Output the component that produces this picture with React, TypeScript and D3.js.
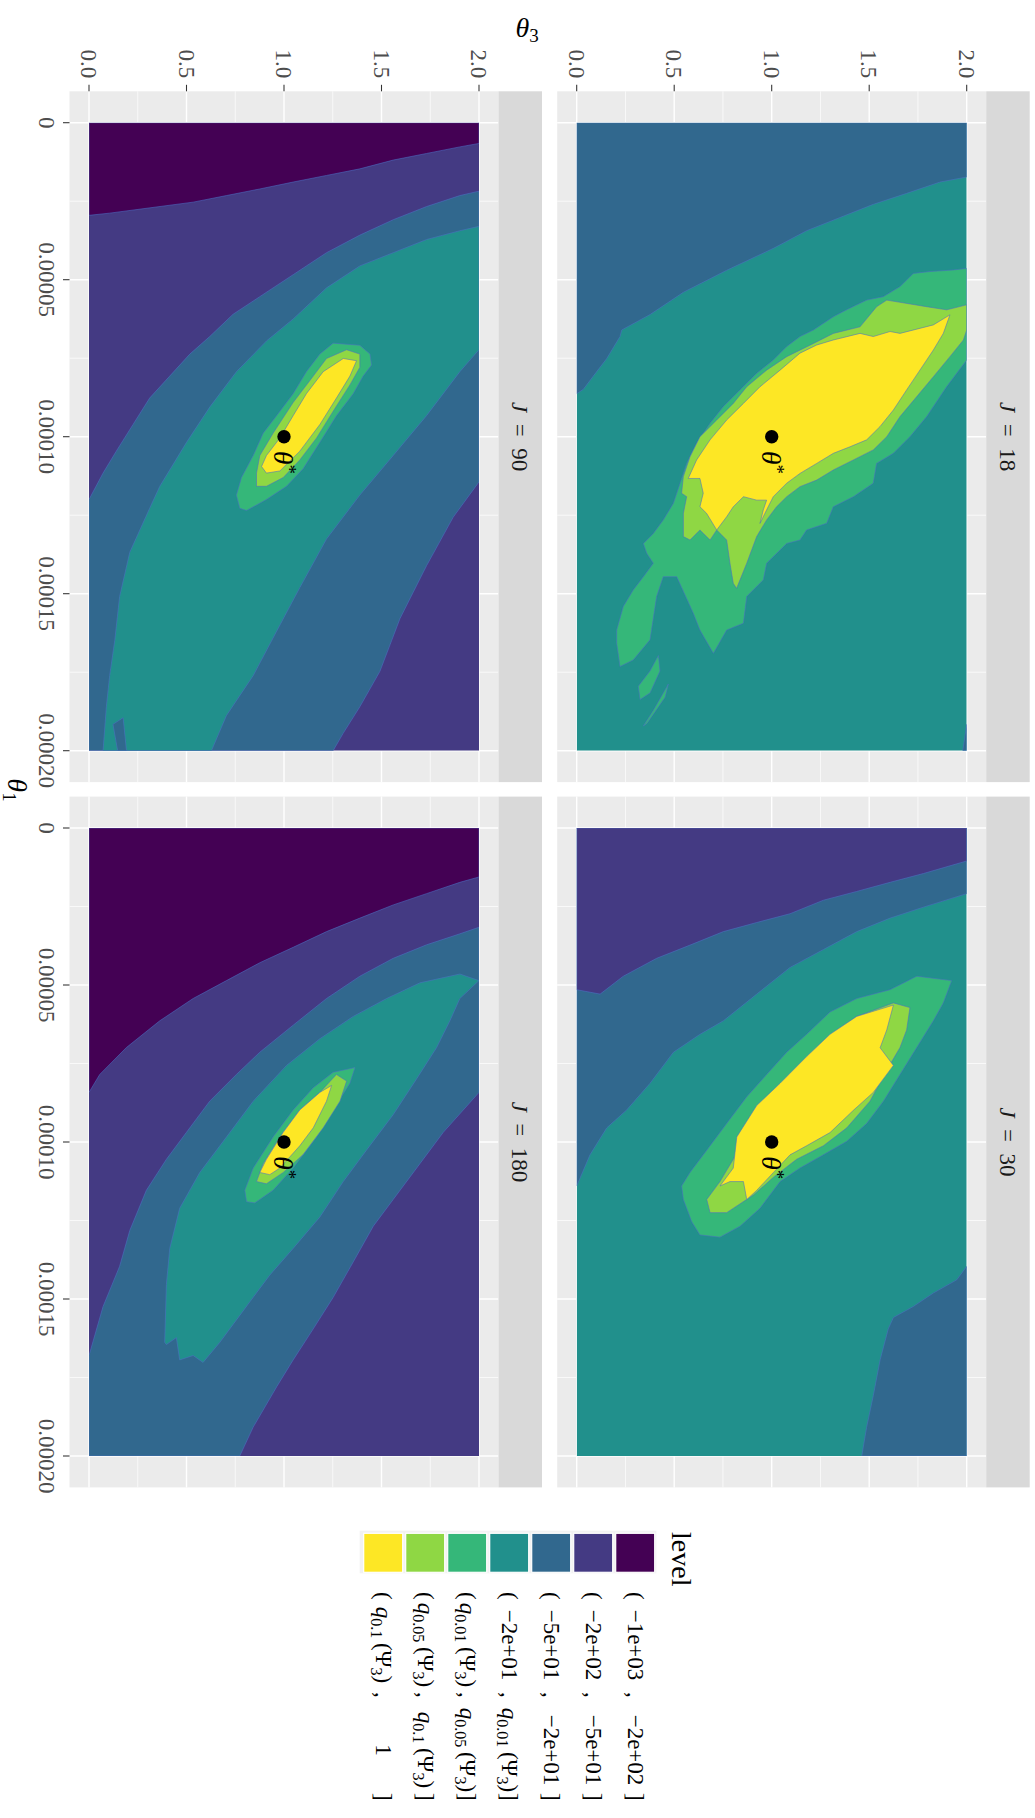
import React from "react";
import * as d3 from "d3";

// facets (facet_wrap order)
const panelJ = ["18", "30", "90", "180"];

const theta1Ticks = [0, 0.00005, 0.0001, 0.00015, 0.0002];
const theta1Labels = ["0", "0.00005", "0.00010", "0.00015", "0.00020"];
const theta3Ticks = [0, 0.5, 1, 1.5, 2];
const theta3Labels = ["0.0", "0.5", "1.0", "1.5", "2.0"];

// viridis, one per level
const levelColors = ["#440154", "#443A83", "#31688E", "#21908C", "#35B779", "#8FD744", "#FDE725"];
const levelLower = ["−1e+03", "−2e+02", "−5e+01", "−2e+01", "q0.01", "q0.05", "q0.1"];
const levelUpper = ["−2e+02", "−5e+01", "−2e+01", "q0.01", "q0.05", "q0.1", "1"];

const thetaStar = [0.0001, 1]; // [theta1, theta3]

// contour regions, points are [theta3, theta1 * 1e4]
// J = 18
const j18Blue = [[0, 0.863], [0.034, 0.849], [0.085, 0.807], [0.154, 0.751], [0.222, 0.681], [0.231, 0.66], [0.376, 0.611], [0.547, 0.54], [0.769, 0.47], [1.009, 0.4], [1.179, 0.344], [1.35, 0.302], [1.521, 0.26], [1.692, 0.225], [1.863, 0.189], [2, 0.173], [2, 0], [0, 0]];
const j18BlueCorner = [[1.98, 2], [2, 1.916], [2, 2]];
const j18Green = [[2, 0.464], [1.931, 0.469], [1.812, 0.474], [1.726, 0.48], [1.658, 0.522], [1.572, 0.554], [1.487, 0.565], [1.384, 0.596], [1.316, 0.618], [1.214, 0.66], [1.145, 0.681], [1.077, 0.713], [1.008, 0.756], [0.923, 0.798], [0.837, 0.851], [0.752, 0.904], [0.684, 0.957], [0.615, 1.021], [0.564, 1.085], [0.53, 1.148], [0.496, 1.212], [0.444, 1.265], [0.393, 1.308], [0.342, 1.34], [0.359, 1.371], [0.393, 1.403], [0.342, 1.446], [0.29, 1.488], [0.239, 1.541], [0.205, 1.616], [0.205, 1.658], [0.222, 1.732], [0.29, 1.711], [0.376, 1.647], [0.41, 1.509], [0.444, 1.446], [0.513, 1.446], [0.598, 1.562], [0.632, 1.616], [0.701, 1.69], [0.769, 1.616], [0.855, 1.594], [0.872, 1.509], [0.957, 1.456], [0.974, 1.403], [1.077, 1.34], [1.145, 1.329], [1.179, 1.297], [1.282, 1.276], [1.316, 1.223], [1.419, 1.191], [1.521, 1.148], [1.538, 1.085], [1.624, 1.053], [1.709, 1.0], [1.795, 0.936], [1.897, 0.841], [2, 0.756]];
const j18GreenIslandA = [[0.419, 1.697], [0.376, 1.746], [0.316, 1.795], [0.325, 1.837], [0.376, 1.816], [0.427, 1.746]];
const j18GreenIslandB = [[0.47, 1.788], [0.393, 1.872], [0.342, 1.921], [0.359, 1.914], [0.453, 1.83]];
const j18LightGreen = [[2, 0.58], [1.897, 0.596], [1.795, 0.586], [1.59, 0.565], [1.538, 0.586], [1.453, 0.65], [1.316, 0.671], [1.214, 0.703], [1.077, 0.745], [0.974, 0.788], [0.872, 0.841], [0.803, 0.894], [0.718, 0.947], [0.632, 1.0], [0.581, 1.064], [0.547, 1.127], [0.538, 1.18], [0.564, 1.191], [0.547, 1.244], [0.547, 1.318], [0.581, 1.329], [0.632, 1.297], [0.684, 1.329], [0.718, 1.297], [0.769, 1.329], [0.786, 1.403], [0.803, 1.467], [0.82, 1.483], [0.872, 1.403], [0.923, 1.318], [0.974, 1.265], [1.025, 1.223], [1.077, 1.191], [1.145, 1.159], [1.231, 1.138], [1.316, 1.106], [1.419, 1.074], [1.521, 1.042], [1.59, 1.0], [1.658, 0.936], [1.743, 0.873], [1.829, 0.809], [1.914, 0.745], [1.983, 0.692], [2, 0.66]];
const j18Yellow = [[1.914, 0.612], [1.829, 0.644], [1.658, 0.671], [1.607, 0.665], [1.521, 0.681], [1.453, 0.671], [1.316, 0.692], [1.231, 0.708], [1.145, 0.734], [1.043, 0.788], [0.94, 0.841], [0.855, 0.894], [0.769, 0.947], [0.684, 1.01], [0.615, 1.074], [0.572, 1.133], [0.632, 1.133], [0.649, 1.18], [0.632, 1.223], [0.666, 1.244], [0.718, 1.297], [0.769, 1.255], [0.803, 1.223], [0.855, 1.191], [0.923, 1.202], [0.974, 1.202], [0.957, 1.233], [0.94, 1.276], [0.974, 1.233], [1.008, 1.191], [1.077, 1.148], [1.145, 1.117], [1.231, 1.085], [1.316, 1.053], [1.402, 1.032], [1.487, 1.01], [1.555, 0.968], [1.624, 0.915], [1.692, 0.851], [1.76, 0.788], [1.829, 0.724], [1.88, 0.671]];

// J = 30
const j30Blue = [[0, 1.14], [0.068, 1.041], [0.154, 0.955], [0.256, 0.898], [0.376, 0.813], [0.496, 0.714], [0.632, 0.657], [0.752, 0.614], [0.923, 0.529], [1.094, 0.444], [1.265, 0.387], [1.436, 0.33], [1.607, 0.287], [1.778, 0.252], [2, 0.209], [2, 0], [0, 0]];
const j30Indigo = [[0, 0.515], [0.12, 0.529], [0.239, 0.472], [0.41, 0.415], [0.581, 0.373], [0.752, 0.33], [0.923, 0.301], [1.094, 0.273], [1.265, 0.23], [1.436, 0.202], [1.607, 0.173], [1.778, 0.145], [2, 0.105], [2, 0], [0, 0]];
const j30BlueLower = [[1.462, 2], [1.487, 1.908], [1.521, 1.808], [1.556, 1.694], [1.598, 1.595], [1.624, 1.559], [1.726, 1.524], [1.829, 1.481], [1.949, 1.439], [2, 1.396], [2, 2]];
const j30Green = [[0.538, 1.14], [0.581, 1.097], [0.667, 1.026], [0.769, 0.941], [0.872, 0.856], [0.974, 0.785], [1.077, 0.714], [1.179, 0.657], [1.299, 0.586], [1.436, 0.543], [1.607, 0.515], [1.744, 0.472], [1.923, 0.486], [1.88, 0.557], [1.829, 0.614], [1.744, 0.699], [1.658, 0.785], [1.573, 0.87], [1.487, 0.941], [1.385, 0.998], [1.265, 1.041], [1.145, 1.083], [1.043, 1.126], [0.94, 1.211], [0.838, 1.268], [0.735, 1.303], [0.632, 1.296], [0.59, 1.254], [0.547, 1.183]];
const j30LightGreen = [[0.667, 1.183], [0.735, 1.126], [0.803, 1.055], [0.872, 0.955], [1.009, 0.842], [1.145, 0.756], [1.282, 0.671], [1.436, 0.6], [1.624, 0.557], [1.709, 0.572], [1.692, 0.643], [1.658, 0.699], [1.59, 0.771], [1.504, 0.87], [1.385, 0.955], [1.265, 1.012], [1.128, 1.055], [1.009, 1.112], [0.906, 1.169], [0.769, 1.225], [0.684, 1.225]];
const j30Yellow = [[0.735, 1.14], [0.803, 1.083], [0.821, 0.984], [0.923, 0.884], [1.043, 0.813], [1.179, 0.728], [1.299, 0.657], [1.436, 0.6], [1.624, 0.564], [1.59, 0.643], [1.556, 0.7], [1.624, 0.756], [1.521, 0.842], [1.419, 0.899], [1.299, 0.97], [1.179, 1.012], [1.094, 1.041], [1.009, 1.097], [0.923, 1.154], [0.872, 1.183], [0.855, 1.126], [0.786, 1.126]];

// J = 90
const j90Purple = [[0, 0.295], [0.106, 0.288], [0.277, 0.274], [0.534, 0.253], [0.705, 0.232], [0.876, 0.211], [1.047, 0.189], [1.218, 0.168], [1.389, 0.147], [1.56, 0.119], [1.731, 0.098], [1.902, 0.077], [2, 0.066], [2, 0], [0, 0]];
const j90Blue = [[0, 1.2], [0.072, 1.116], [0.14, 1.046], [0.226, 0.961], [0.311, 0.877], [0.414, 0.807], [0.517, 0.737], [0.619, 0.681], [0.739, 0.61], [0.876, 0.554], [1.047, 0.484], [1.218, 0.414], [1.389, 0.358], [1.56, 0.309], [1.731, 0.267], [1.902, 0.232], [2, 0.218], [2, 1.144], [1.868, 1.256], [1.731, 1.411], [1.595, 1.579], [1.492, 1.747], [1.389, 1.86], [1.304, 1.944], [1.252, 2], [0, 2]];
const j90Teal = [[0.072, 2], [0.089, 1.86], [0.106, 1.761], [0.132, 1.649], [0.157, 1.509], [0.209, 1.368], [0.311, 1.228], [0.363, 1.158], [0.5, 1.018], [0.62, 0.905], [0.756, 0.793], [0.91, 0.695], [1.047, 0.625], [1.218, 0.526], [1.389, 0.456], [1.56, 0.414], [1.731, 0.372], [1.902, 0.344], [2, 0.33], [2, 0.723], [1.902, 0.793], [1.731, 0.933], [1.56, 1.06], [1.389, 1.186], [1.218, 1.326], [1.081, 1.481], [0.961, 1.621], [0.842, 1.761], [0.705, 1.888], [0.628, 2]];
const j90BlueBump = [[0.123, 1.916], [0.175, 1.895], [0.192, 2], [0.147, 2]];
const j90Green = [[1.441, 0.737], [1.389, 0.709], [1.252, 0.702], [1.184, 0.737], [1.115, 0.793], [1.047, 0.863], [0.962, 0.933], [0.893, 0.989], [0.842, 1.06], [0.782, 1.13], [0.756, 1.186], [0.773, 1.228], [0.808, 1.235], [0.91, 1.2], [1.013, 1.158], [1.098, 1.102], [1.184, 1.018], [1.269, 0.933], [1.355, 0.863], [1.406, 0.807], [1.449, 0.772]];
const j90LightGreen = [[1.389, 0.737], [1.321, 0.723], [1.218, 0.751], [1.133, 0.821], [1.047, 0.891], [0.944, 0.989], [0.876, 1.06], [0.859, 1.116], [0.859, 1.158], [0.91, 1.158], [0.996, 1.13], [1.081, 1.074], [1.167, 1.004], [1.252, 0.919], [1.338, 0.835], [1.389, 0.779]];
const j90Yellow = [[1.372, 0.758], [1.304, 0.751], [1.201, 0.793], [1.115, 0.863], [1.047, 0.933], [0.979, 1.004], [0.91, 1.06], [0.885, 1.095], [0.91, 1.116], [0.979, 1.109], [1.081, 1.046], [1.184, 0.961], [1.269, 0.877], [1.338, 0.807]];

// J = 180
const j180Purple = [[0, 0.842], [0.055, 0.785], [0.192, 0.699], [0.363, 0.614], [0.534, 0.543], [0.705, 0.486], [0.876, 0.429], [1.047, 0.38], [1.218, 0.33], [1.389, 0.287], [1.56, 0.245], [1.731, 0.209], [1.902, 0.173], [2, 0.156], [2, 0], [0, 0]];
const j180Blue = [[0, 1.68], [0.072, 1.524], [0.157, 1.396], [0.209, 1.282], [0.294, 1.154], [0.397, 1.055], [0.5, 0.969], [0.619, 0.87], [0.756, 0.785], [0.876, 0.714], [1.047, 0.628], [1.218, 0.543], [1.389, 0.472], [1.56, 0.415], [1.731, 0.372], [1.902, 0.337], [2, 0.316], [2, 0.842], [1.817, 0.969], [1.697, 1.069], [1.56, 1.183], [1.458, 1.268], [1.355, 1.382], [1.252, 1.495], [1.15, 1.595], [1.047, 1.694], [0.962, 1.78], [0.842, 1.908], [0.773, 2], [0, 2]];
const j180Teal = [[0.388, 1.638], [0.397, 1.453], [0.414, 1.339], [0.465, 1.211], [0.568, 1.097], [0.705, 0.984], [0.842, 0.87], [1.013, 0.756], [1.184, 0.671], [1.355, 0.6], [1.526, 0.543], [1.697, 0.493], [1.902, 0.465], [2, 0.486], [1.902, 0.543], [1.851, 0.614], [1.783, 0.699], [1.68, 0.799], [1.56, 0.913], [1.423, 1.026], [1.304, 1.126], [1.184, 1.239], [1.047, 1.339], [0.927, 1.424], [0.825, 1.509], [0.739, 1.581], [0.671, 1.638], [0.585, 1.702], [0.534, 1.68], [0.465, 1.694], [0.448, 1.623], [0.397, 1.645]];
const j180Green = [[0.799, 1.154], [0.842, 1.083], [0.944, 0.984], [1.047, 0.898], [1.15, 0.827], [1.252, 0.778], [1.364, 0.763], [1.338, 0.813], [1.252, 0.898], [1.167, 0.984], [1.047, 1.083], [0.944, 1.154], [0.85, 1.194], [0.808, 1.19]];
const j180LightGreen = [[0.859, 1.126], [0.893, 1.069], [0.979, 0.984], [1.081, 0.898], [1.184, 0.842], [1.269, 0.785], [1.321, 0.806], [1.287, 0.87], [1.201, 0.955], [1.098, 1.04], [0.996, 1.097], [0.91, 1.133]];
const j180Yellow = [[0.876, 1.097], [0.91, 1.055], [0.996, 0.969], [1.081, 0.898], [1.184, 0.842], [1.244, 0.82], [1.218, 0.87], [1.15, 0.955], [1.081, 1.012], [0.979, 1.083], [0.927, 1.104]];

// background level and overlaid [level, polygon] per facet
const panelBase = { "18": 3, "30": 3, "90": 1, "180": 1 };
const panelRegions = {
  "18": [[2, j18Blue], [2, j18BlueCorner], [4, j18Green], [4, j18GreenIslandA], [4, j18GreenIslandB], [5, j18LightGreen], [6, j18Yellow]],
  "30": [[2, j30Blue], [1, j30Indigo], [2, j30BlueLower], [4, j30Green], [5, j30LightGreen], [6, j30Yellow]],
  "90": [[0, j90Purple], [2, j90Blue], [3, j90Teal], [2, j90BlueBump], [4, j90Green], [5, j90LightGreen], [6, j90Yellow]],
  "180": [[0, j180Purple], [2, j180Blue], [3, j180Teal], [4, j180Green], [5, j180LightGreen], [6, j180Yellow]],
};

const font = "'Liberation Serif', 'DejaVu Serif', serif";

// q0.01 -> q_{0.01}(Psi_3)
function Bound({ text }: { text: string }) {
  if (text.startsWith("q")) {
    return (
      <>
        <tspan fontStyle="italic">q</tspan>
        <tspan dy={5} fontSize={16}>{text.slice(1)}</tspan>
        <tspan dy={-5}>{"\u2009(Ψ"}</tspan>
        <tspan dy={5} fontSize={16}>3</tspan>
        <tspan dy={-5}>)</tspan>
      </>
    );
  }
  return <tspan>{text}</tspan>;
}

export default function App() {
  // drawn in ggplot's own (landscape) orientation, then turned 90° clockwise
  const pw = 628;
  const ph = 390;
  const ex = pw * 0.05;
  const ey = ph * 0.05;
  const colX = [122.7, 828];
  const rowY = [68.3, 556];
  const stripH = 43.5;

  const panels = panelJ.map((j, i) => {
    const col = i % 2;
    const row = Math.floor(i / 2);
    const x = d3.scaleLinear().domain([0, 0.0002]).range([colX[col], colX[col] + pw]);
    const y = d3.scaleLinear().domain([0, 2]).range([rowY[row] + ph, rowY[row]]);
    return { j, col, row, x, y };
  });

  const mid = (a: number[]) => a.slice(1).map((v, i) => (v + a[i]) / 2);
  const theta1Minor = mid(theta1Ticks);
  const theta3Minor = mid(theta3Ticks);

  return (
    <svg width={1035} height={1818} style={{ position: "absolute", left: 0, top: 0, display: "block" }} fontFamily={font}>
      <rect width={1035} height={1818} fill="#ffffff" />
      <defs>
        {panels.map((p) => (
          <clipPath id={`clip-${p.j}`} key={p.j}>
            <rect x={p.x(0)} y={p.y(2)} width={pw} height={ph} />
          </clipPath>
        ))}
      </defs>
      <g transform="translate(1035,0) rotate(90)">
        {panels.map((p) => {
          const line = d3
            .line<number[]>()
            .x((d) => p.x(d[1] * 1e-4))
            .y((d) => p.y(d[0]));
          const gx0 = p.x(0) - ex;
          const gx1 = p.x(0.0002) + ex;
          const gy0 = p.y(2) - ey;
          const gy1 = p.y(0) + ey;
          return (
            <g key={p.j}>
              {/* panel background and grid */}
              <rect x={gx0} y={gy0} width={gx1 - gx0} height={gy1 - gy0} fill="#EBEBEB" />
              {theta1Minor.map((t) => (
                <line key={"a" + t} x1={p.x(t)} x2={p.x(t)} y1={gy0} y2={gy1} stroke="#fff" strokeWidth={0.7} />
              ))}
              {theta3Minor.map((t) => (
                <line key={"b" + t} y1={p.y(t)} y2={p.y(t)} x1={gx0} x2={gx1} stroke="#fff" strokeWidth={0.7} />
              ))}
              {theta1Ticks.map((t) => (
                <line key={"c" + t} x1={p.x(t)} x2={p.x(t)} y1={gy0} y2={gy1} stroke="#fff" strokeWidth={1.4} />
              ))}
              {theta3Ticks.map((t) => (
                <line key={"d" + t} y1={p.y(t)} y2={p.y(t)} x1={gx0} x2={gx1} stroke="#fff" strokeWidth={1.4} />
              ))}

              {/* filled contours */}
              <g clipPath={`url(#clip-${p.j})`}>
                <rect x={p.x(0)} y={p.y(2)} width={pw} height={ph} fill={levelColors[panelBase[p.j]]} />
                {panelRegions[p.j].map(([lev, pts], k) => (
                  <path
                    key={k}
                    d={line(pts as number[][]) + "Z"}
                    fill={levelColors[lev as number]}
                    stroke="#4d6fc4"
                    strokeWidth={0.8}
                    strokeOpacity={0.7}
                    strokeLinejoin="round"
                  />
                ))}
              </g>

              {/* true value */}
              <circle cx={p.x(thetaStar[0])} cy={p.y(thetaStar[1])} r={6.7} fill="#000" />
              <text x={p.x(thetaStar[0]) + 14} y={p.y(thetaStar[1]) + 10} fontSize={28} fill="#000">
                <tspan fontStyle="italic">θ</tspan>
                <tspan dy={-9} fontSize={19}>*</tspan>
              </text>

              {/* strip */}
              <rect x={gx0} y={gy0 - stripH} width={gx1 - gx0} height={stripH} fill="#D9D9D9" />
              <text x={(gx0 + gx1) / 2} y={gy0 - stripH / 2 + 8} textAnchor="middle" fontSize={23} fill="#1A1A1A">
                <tspan fontStyle="italic">J</tspan>
                <tspan>{"\u2002=\u2002" + p.j}</tspan>
              </text>

              {/* θ3 axis on first column */}
              {p.col === 0 &&
                theta3Ticks.map((t, k) => (
                  <g key={"y" + t}>
                    <line x1={gx0 - 6.5} x2={gx0} y1={p.y(t)} y2={p.y(t)} stroke="#333333" strokeWidth={1.07} />
                    <text x={gx0 - 13} y={p.y(t) + 8} textAnchor="end" fontSize={23} fill="#4D4D4D">
                      {theta3Labels[k]}
                    </text>
                  </g>
                ))}

              {/* θ1 axis on bottom row */}
              {p.row === 1 &&
                theta1Ticks.map((t, k) => (
                  <g key={"x" + t}>
                    <line x1={p.x(t)} x2={p.x(t)} y1={gy1} y2={gy1 + 6.5} stroke="#333333" strokeWidth={1.07} />
                    <text x={p.x(t)} y={gy1 + 30.5} textAnchor="middle" fontSize={23} fill="#4D4D4D">
                      {theta1Labels[k]}
                    </text>
                  </g>
                ))}
            </g>
          );
        })}

        {/* axis titles */}
        <text x={790} y={1027} textAnchor="middle" fontSize={28} fill="#000">
          <tspan fontStyle="italic">θ</tspan>
          <tspan dy={5} fontSize={19}>1</tspan>
        </text>
        <text transform="translate(37,508) rotate(-90)" textAnchor="middle" fontSize={28} fill="#000">
          <tspan fontStyle="italic">θ</tspan>
          <tspan dy={5} fontSize={19}>3</tspan>
        </text>

        {/* legend */}
        <text x={1532} y={363} fontSize={28} fill="#000">level</text>
        <rect x={1530.7} y={378.7} width={42.6} height={296.6} fill="#F2F2F2" />
        {levelColors.map((c, i) => {
          const ky = 380.3 + 42 * i;
          return (
            <g key={c}>
              <rect x={1533.3} y={ky} width={39} height={39} fill={c} stroke="#ffffff" strokeWidth={1.2} />
              <text x={1592} y={ky + 27} fontSize={23} fill="#000">(</text>
              <text x={1645} y={ky + 27} fontSize={23} fill="#000" textAnchor="middle">
                <Bound text={levelLower[i]} />
              </text>
              <text x={1692} y={ky + 27} fontSize={23} fill="#000">,</text>
              <text x={1750} y={ky + 27} fontSize={23} fill="#000" textAnchor="middle">
                <Bound text={levelUpper[i]} />
              </text>
              <text x={1793} y={ky + 27} fontSize={23} fill="#000">]</text>
            </g>
          );
        })}
      </g>
    </svg>
  );
}
